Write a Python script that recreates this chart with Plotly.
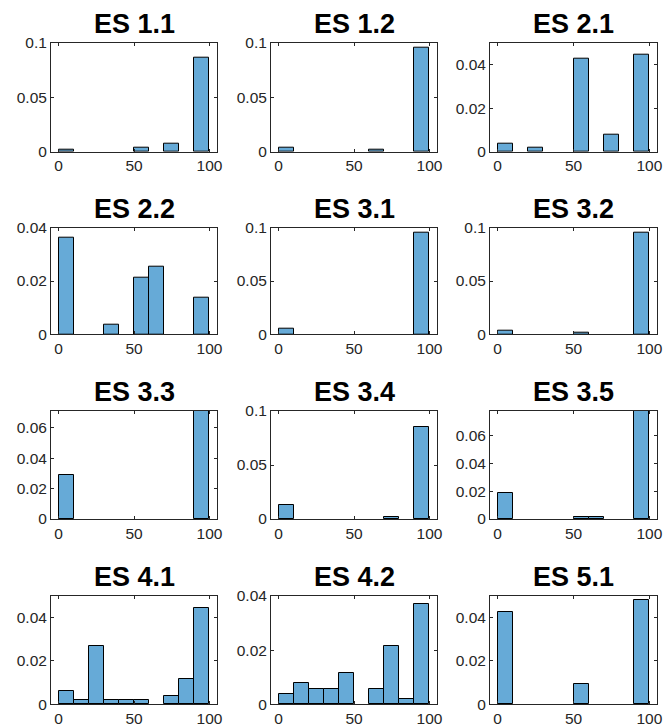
import plotly.graph_objects as go

# ---- data (probability-density histograms, bin width 10 over 0..100) ----
bin_centers = [5, 15, 25, 35, 45, 55, 65, 75, 85, 95]
titles = ["ES 1.1", "ES 1.2", "ES 2.1", "ES 2.2", "ES 3.1", "ES 3.2",
          "ES 3.3", "ES 3.4", "ES 3.5", "ES 4.1", "ES 4.2", "ES 5.1"]

es_1_1 = [0.0020, 0, 0, 0, 0, 0.0038, 0, 0.0077, 0, 0.0865]
es_1_2 = [0.0037, 0, 0, 0, 0, 0, 0.0022, 0, 0, 0.0950]
es_2_1 = [0.0038, 0, 0.0020, 0, 0, 0.0426, 0, 0.0076, 0, 0.0443]
es_2_2 = [0.0364, 0, 0, 0.0037, 0, 0.0214, 0.0253, 0, 0, 0.0137]
es_3_1 = [0.0050, 0, 0, 0, 0, 0, 0, 0, 0, 0.0950]
es_3_2 = [0.0031, 0, 0, 0, 0, 0.0019, 0, 0, 0, 0.0950]
es_3_3 = [0.0290, 0, 0, 0, 0, 0, 0, 0, 0, 0.0710]
es_3_4 = [0.0132, 0, 0, 0, 0, 0, 0, 0.0017, 0, 0.0851]
es_3_5 = [0.0190, 0, 0, 0, 0, 0.0017, 0.0017, 0, 0, 0.0776]
es_4_1 = [0.0061, 0.0018, 0.0270, 0.0018, 0.0018, 0.0018, 0, 0.0038, 0.0116, 0.0443]
es_4_2 = [0.0037, 0.0078, 0.0057, 0.0057, 0.0117, 0, 0.0057, 0.0214, 0.0019, 0.0370]
es_5_1 = [0.0424, 0, 0, 0, 0, 0.0096, 0, 0, 0, 0.0481]

series = [es_1_1, es_1_2, es_2_1, es_2_2, es_3_1, es_3_2,
          es_3_3, es_3_4, es_3_5, es_4_1, es_4_2, es_5_1]

y_max = [0.1, 0.1, 0.05, 0.04, 0.1, 0.1, 0.0710, 0.1, 0.0776, 0.05, 0.04, 0.05]
y_tick_vals = [[0, 0.05, 0.1], [0, 0.05, 0.1], [0, 0.02, 0.04], [0, 0.02, 0.04],
               [0, 0.05, 0.1], [0, 0.05, 0.1], [0, 0.02, 0.04, 0.06], [0, 0.05, 0.1],
               [0, 0.02, 0.04, 0.06], [0, 0.02, 0.04], [0, 0.02, 0.04], [0, 0.02, 0.04]]
x_tick_vals = [0, 50, 100]
x_tick_text = ["0", "50", "100"]

# ---- layout geometry (pixels) ----
W, H = 664, 727
col_px = [(51, 217), (271, 437), (490, 657)]
row_px = [(42.7, 151.7), (227.7, 334.3), (411, 519), (596, 704.3)]

BAR_COLOR = "#66aad7"
AX_COLOR = "#262626"
FONT = "Liberation Sans, Arial, sans-serif"

fig = go.Figure()
annotations = []

for i, vals in enumerate(series):
    r, c = divmod(i, 3)
    k = "" if i == 0 else str(i + 1)
    xa, ya = "x" + k, "y" + k
    fig.add_trace(go.Bar(
        x=bin_centers,
        y=[v if v > 0 else None for v in vals],
        width=10,
        marker=dict(color=BAR_COLOR, line=dict(color="#000000", width=1)),
        xaxis=xa, yaxis=ya, showlegend=False,
    ))
    x0, x1 = col_px[c]
    y0, y1 = row_px[r]
    common = dict(showline=True, linecolor=AX_COLOR, linewidth=1, mirror="ticks",
                  ticks="inside", ticklen=3, tickcolor=AX_COLOR, showgrid=False,
                  zeroline=False, automargin=False,
                  tickfont=dict(family=FONT, size=15.5, color=AX_COLOR))
    fig.layout["xaxis" + k] = dict(
        domain=[x0 / W, x1 / W], range=[-5, 105], anchor=ya,
        tickvals=x_tick_vals, ticktext=x_tick_text, **common)
    fig.layout["yaxis" + k] = dict(
        domain=[1 - y1 / H, 1 - y0 / H], range=[0, y_max[i]], anchor=xa,
        tickvals=y_tick_vals[i], ticktext=["%g" % v for v in y_tick_vals[i]], **common)
    annotations.append(dict(
        text="<b>%s</b>" % titles[i], xref="paper", yref="paper",
        x=(x0 + x1) / 2 / W, y=1 - (y0 - 19) / H, xanchor="center", yanchor="middle",
        showarrow=False, font=dict(family=FONT, size=27, color="#000000")))

fig.update_layout(
    width=W, height=H,
    margin=dict(l=0, r=0, t=0, b=0, pad=0, autoexpand=False),
    paper_bgcolor="white", plot_bgcolor="white",
    bargap=0, annotations=annotations,
)

fig.write_html("out.html")
